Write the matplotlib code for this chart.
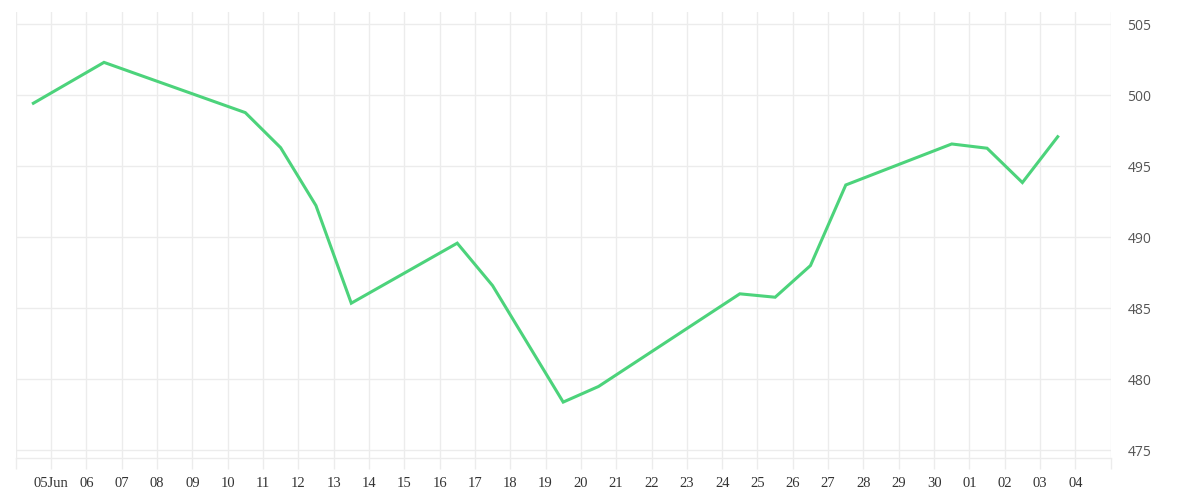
import matplotlib
matplotlib.use("Agg")
import matplotlib.pyplot as plt
import pandas as pd

# ---- data ----
dates = ["2024-06-04 12:00", "2024-06-06 12:00", "2024-06-10 12:00", "2024-06-11 12:00",
         "2024-06-12 12:00", "2024-06-13 12:00", "2024-06-16 12:00", "2024-06-17 12:00",
         "2024-06-19 12:00", "2024-06-20 12:00", "2024-06-24 12:00", "2024-06-25 12:00",
         "2024-06-26 12:00", "2024-06-27 12:00", "2024-06-30 12:00", "2024-07-01 12:00",
         "2024-07-02 12:00", "2024-07-03 12:00"]
values = [499.44, 502.32, 498.78, 496.31, 492.23, 485.35, 489.58, 486.59,
          478.38, 479.48, 486.01, 485.77, 488.00, 493.68, 496.57, 496.27,
          493.85, 497.08]
tick_days = pd.date_range("2024-06-04", "2024-07-05", freq="D")
tick_labels = [""] + ["05Jun"] + [d.strftime("%d") for d in tick_days[2:-1]] + [""]
y_ticks = [475, 480, 485, 490, 495, 500, 505]

# ---- figure ----
fig = plt.figure(figsize=(12, 5), dpi=100)
ax = fig.add_axes([15.7 / 1200, 1 - 458 / 500, (1110.7 - 15.7) / 1200, (458 - 12) / 500])

x = pd.to_datetime(dates)
ax.plot(x, values, color="#4cd37b", lw=2.2, solid_joinstyle="miter", zorder=3)

ax.set_xlim(tick_days[0], tick_days[-1])
ax.set_ylim(474.44, 505.87)

ax.set_xticks(tick_days)
ax.set_xticklabels(tick_labels, family="Liberation Serif", fontsize=10.5, color="#333333")
ax.yaxis.tick_right()
ax.set_yticks(y_ticks)
ax.set_yticklabels([str(v) for v in y_ticks], family="Open Sans", fontsize=10, color="#555555")

ax.grid(True, color="#ececec", lw=1)
ax.set_axisbelow(True)
ax.tick_params(axis="x", length=8, width=1, color="#ececec", pad=6)
ax.tick_params(axis="y", length=0, pad=12)

for s in ["top", "left", "right"]:
    ax.spines[s].set_visible(False)
ax.spines["bottom"].set_color("#ececec")
ax.spines["bottom"].set_linewidth(1)

fig.savefig("out.png", dpi=100)
